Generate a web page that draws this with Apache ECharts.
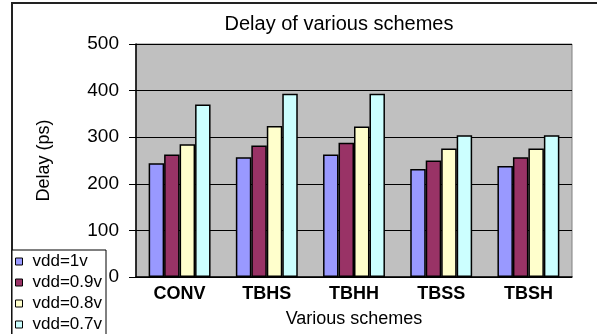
<!DOCTYPE html>
<html>
<head>
<meta charset="utf-8">
<script src="https://cdn.jsdelivr.net/npm/echarts@6/dist/echarts.min.js"></script>
<style>
html,body{margin:0;padding:0;background:#fff;}
#delayChart{width:597px;height:334px;}
</style>
</head>
<body>
<div id="delayChart"></div>
<script>
// 数据
var schemes=['CONV','TBHS','TBHH','TBSS','TBSH'];
var vdd1=[244,257,263,232,238];
var vdd09=[263,282,288,250,257];
var vdd08=[285,324,323,276,276];
var vdd07=[370,393,393,304,304];
var seriesNames=['vdd=1v','vdd=0.9v','vdd=0.8v','vdd=0.7v'];
var seriesColors=['#9999ff','#993366','#ffffcc','#ccffff'];

window.onload=function(){
	delayChart();
};
function delayChart(){
	var myChart=echarts.init(document.getElementById('delayChart'));
	var font='Liberation Sans';
	var allData=[vdd1,vdd09,vdd08,vdd07];
	var series=[];
	for(var i=0;i<allData.length;i++){
		series.push({
			type:'bar',
			name:seriesNames[i],
			data:allData[i],
			barGap:'0%',
			barCategoryGap:'29%',
			itemStyle:{color:seriesColors[i],borderColor:'#000',borderWidth:1.5}
		});
	}
	var option={
		animation:false,
		title:{
			text:'Delay of various schemes',
			left:334,
			top:9,
			textAlign:'center',
			textStyle:{fontFamily:font,fontSize:20,fontWeight:'normal',color:'#000'}
		},
		graphic:[
			{type:'rect',z:1,shape:{x:12,y:3,width:700,height:500},style:{fill:'none',stroke:'#222',lineWidth:2}},
			{type:'rect',z:2,shape:{x:12,y:250,width:94,height:120},style:{fill:'#fff',stroke:'#000',lineWidth:1}}
		],
		legend:{
			orient:'vertical',
			left:15,
			top:253,
			padding:0,
			itemWidth:7,
			itemHeight:7,
			itemGap:4,
			icon:'rect',
			z:5,
			itemStyle:{borderColor:'#000',borderWidth:1},
			textStyle:{fontFamily:font,fontSize:17,color:'#000',padding:[0,0,0,5]},
			data:seriesNames
		},
		color:seriesColors,
		grid:{
			show:true,
			left:136,
			right:25,
			top:44,
			bottom:57,
			backgroundColor:'#c0c0c0',
			borderColor:'#808080',
			borderWidth:1
		},
		xAxis:{
			type:'category',
			data:schemes,
			name:'Various schemes',
			nameLocation:'middle',
			nameGap:33,
			nameTextStyle:{fontFamily:font,fontSize:18,color:'#000'},
			axisLine:{lineStyle:{color:'#000',width:1.5}},
			axisTick:{show:false},
			axisLabel:{fontFamily:font,fontSize:18,fontWeight:'bold',color:'#000',margin:8}
		},
		yAxis:{
			type:'value',
			min:0,
			max:500,
			interval:100,
			name:'Delay (ps)',
			nameLocation:'middle',
			nameGap:83,
			nameTextStyle:{fontFamily:font,fontSize:18,color:'#000'},
			axisLine:{show:true,lineStyle:{color:'#000',width:1.5}},
			axisTick:{show:true,length:7,lineStyle:{color:'#000'}},
			axisLabel:{fontFamily:font,fontSize:19,color:'#000',margin:17},
			splitLine:{lineStyle:{color:'#000',width:1}}
		},
		series:series
	};
	myChart.setOption(option);
}
</script>
</body>
</html>
